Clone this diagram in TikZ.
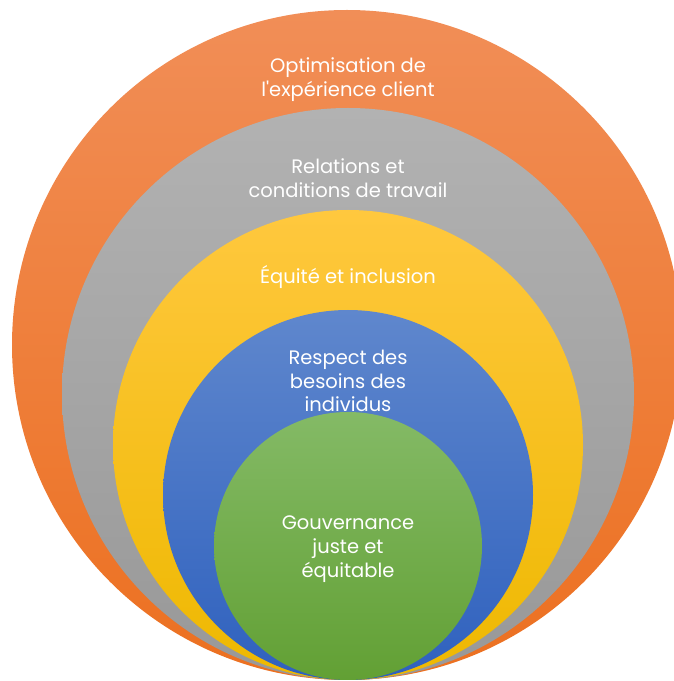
\documentclass[tikz,border=0pt]{standalone}
\usepackage{fontspec}
\setmainfont{Poppins}
\usepackage{tikz}
\usetikzlibrary{positioning}

\definecolor{orangeTop}{RGB}{241,142,87}
\definecolor{orangeBot}{RGB}{236,112,32}
\definecolor{grayTop}{RGB}{178,178,178}
\definecolor{grayBot}{RGB}{152,152,152}
\definecolor{yellowTop}{RGB}{255,200,62}
\definecolor{yellowBot}{RGB}{238,184,0}
\definecolor{blueTop}{RGB}{95,135,205}
\definecolor{blueBot}{RGB}{47,97,190}
\definecolor{greenTop}{RGB}{132,186,102}
\definecolor{greenBot}{RGB}{98,160,52}

\begin{document}
\begin{tikzpicture}[
    x=1pt, y=1pt,
    ring/.style={circle, draw=none, inner sep=0pt, outer sep=0pt},
    lbl/.style={text=white, align=center, inner sep=0pt, font=\fontsize{19.5}{23.8}\selectfont}
]

\useasboundingbox (0,0) rectangle (674,681);
\clip (0,0) rectangle (674,681);

% Rings
\node[ring, minimum size=670pt, top color=orangeTop, bottom color=orangeBot] (client) at (347,336) {};
\node[ring, minimum size=572pt, top color=grayTop, bottom color=grayBot] (travail) at (348,287) {};
\node[ring, minimum size=470pt, top color=yellowTop, bottom color=yellowBot] (equite) at (348,236) {};
\node[ring, minimum size=370pt, top color=blueTop, bottom color=blueBot] (besoins) at (348,186) {};
\node[ring, minimum size=268pt, top color=greenTop, bottom color=greenBot] (gouv) at (348,135) {};

% Labels
\node[lbl] (lblclient) at (348,601) {Optimisation de\\l\textquotesingle expérience client};
\node[lbl] (lbltravail) at (348,503) {Relations et\\conditions de travail};
\node[lbl] (lblequite) at (348,404) {Équité et inclusion};
\node[lbl] (lblbesoins) at (348,300) {Respect des\\besoins des\\individus};
\node[lbl] (lblgouv) at (348,132) {Gouvernance\\juste et\\équitable};

\end{tikzpicture}
\end{document}
